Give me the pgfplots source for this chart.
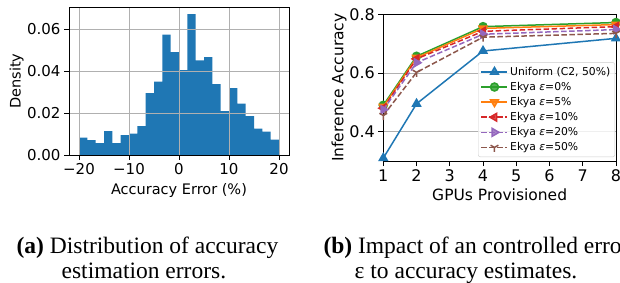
\documentclass[border=0pt]{standalone}
\usepackage{fontspec}
\setmainfont{DejaVu Sans}
\newfontfamily\capfont{Liberation Serif}
\usepackage{pgfplots}
\pgfplotsset{compat=1.18}
\usetikzlibrary{plotmarks}
\definecolor{tabblue}{HTML}{1F77B4}
\definecolor{taborange}{HTML}{FF7F0E}
\definecolor{tabgreen}{HTML}{2CA02C}
\definecolor{tabred}{HTML}{D62728}
\definecolor{tabpurple}{HTML}{9467BD}
\definecolor{tabbrown}{HTML}{8C564B}
\definecolor{gridgray}{HTML}{B0B0B0}
\begin{document}
\begin{tikzpicture}[x=1pt,y=1pt]
\useasboundingbox (0,0) rectangle (620,282);
% ---------------- (a) histogram ----------------
\begin{axis}[
  at={(69pt,127pt)}, anchor=south west,
  scale only axis, width=220pt, height=148pt,
  xmin=-22, xmax=22, ymin=0, ymax=0.0705,
  scaled y ticks=false, scaled x ticks=false,
  axis on top,
  xtick={-20,-10,0,10,20}, xticklabels={−20,−10,0,10,20},
  ytick={0,0.02,0.04,0.06}, yticklabels={0.00,0.02,0.04,0.06},
  xmajorgrids, ymajorgrids,
  grid style={color=gridgray, line width=0.8pt},
  tick align=outside, major tick length=5pt,
  xtick pos=lower, ytick pos=left,
  tick style={black, line width=0.8pt},
  axis line style={line width=0.8pt},
  ticklabel style={font=\fontsize{15}{15}\selectfont},
  xlabel={Accuracy Error (\%)}, ylabel={Density},
  label style={font=\fontsize{14.5}{14.5}\selectfont},
  xlabel style={at={(axis description cs:0.5,-0.2635)}, anchor=base},
  ylabel style={at={(axis description cs:-0.22,0.5)}, anchor=base},
]
\addplot[ybar interval, fill=tabblue, draw=none] coordinates {
(-20,0.00825) (-18.3333,0.00714) (-16.6667,0.00571) (-15,0.01143)
(-13.3333,0.00571) (-11.6667,0.00952) (-10,0.01016) (-8.3333,0.01381)
(-6.6667,0.02952) (-5,0.03492) (-3.3333,0.0573) (-1.6667,0.04905)
(0,0.04048) (1.6667,0.0671) (3.3333,0.04508) (5,0.04667)
(6.6667,0.03381) (8.3333,0.02095) (10,0.0319) (11.6667,0.02444)
(13.3333,0.01857) (15,0.01254) (16.6667,0.01111) (18.3333,0.0073)
(20,0.0073)};
\end{axis}
% ---------------- (b) lines ----------------
\begin{axis}[
  at={(383.3pt,121pt)}, anchor=south west,
  scale only axis, width=232.7pt, height=146.7pt,
  xmin=1, xmax=8, ymin=0.3, ymax=0.8,
  xtick={1,2,3,4,5,6,7,8}, xticklabels={1,2,3,4,5,6,7,8},
  ytick={0.4,0.6,0.8}, yticklabels={0.4,0.6,0.8},
  ymajorgrids,
  grid style={color=gridgray, line width=0.8pt},
  tick align=outside, major tick length=5pt,
  xtick pos=lower, ytick pos=left,
  tick style={black, line width=0.8pt},
  axis line style={line width=0.8pt},
  ticklabel style={font=\fontsize{16}{16}\selectfont},
  xlabel={GPUs Provisioned}, ylabel={Inference Accuracy},
  label style={font=\fontsize{15.5}{15.5}\selectfont},
  xlabel style={at={(axis description cs:0.5,-0.269)}, anchor=base},
  ylabel style={at={(axis description cs:-0.172,0.5)}, anchor=base},
  clip mode=individual,
  legend cell align=left,
  legend style={at={(1,0)}, anchor=south east, xshift=-1pt, yshift=4pt,
    font=\fontsize{10.8}{10.8}\selectfont, draw=black!20, rounded corners=2pt,
    fill=white, fill opacity=0.8, text opacity=1, row sep=1.4pt,
    inner xsep=2.5pt, inner ysep=2.5pt},
  legend image code/.code={\draw[mark repeat=2,mark phase=2,#1] plot coordinates {(0pt,0pt)(13pt,0pt)(26pt,0pt)};},
]
\addplot[tabblue, line width=1.5pt, mark=triangle*, mark size=4.5pt] coordinates {(1,0.31)(2,0.495)(4,0.675)(8,0.718)};
\addlegendentry{Uniform (C2, 50\%)}
\addplot[tabgreen, line width=1.5pt, mark=*, mark size=4pt] coordinates {(1,0.49)(2,0.657)(4,0.758)(8,0.772)};
\addlegendentry{Ekya \textit{ε}=0\%}
\addplot[taborange, line width=1.5pt, mark=triangle*, mark size=4.5pt, mark options={rotate=180}] coordinates {(1,0.485)(2,0.652)(4,0.752)(8,0.765)};
\addlegendentry{Ekya \textit{ε}=5\%}
\addplot[tabred, line width=1.5pt, dash pattern=on 5.5pt off 2.5pt, mark=triangle*, mark size=4.5pt, mark options={solid, rotate=90}] coordinates {(1,0.48)(2,0.648)(4,0.742)(8,0.758)};
\addlegendentry{Ekya \textit{ε}=10\%}
\addplot[tabpurple, line width=1.5pt, dash pattern=on 5.5pt off 2.5pt, mark=triangle*, mark size=4.5pt, mark options={solid, rotate=-90}] coordinates {(1,0.475)(2,0.635)(4,0.732)(8,0.748)};
\addlegendentry{Ekya \textit{ε}=20\%}
\addplot[tabbrown, line width=1.5pt, dash pattern=on 5.5pt off 2.5pt, mark=Mercedes star flipped, mark size=4.5pt, mark options={solid}] coordinates {(1,0.455)(2,0.602)(4,0.722)(8,0.735)};
\addlegendentry{Ekya \textit{ε}=50\%}
\end{axis}
% ---------------- captions ----------------
\begin{scope}[every node/.style={inner sep=0pt, font=\capfont\fontsize{23.5}{25}\selectfont}]
\node[anchor=base] at (147.5,28.7) {\textbf{(a)} Distribution of accuracy};
\node[anchor=base] at (143.9,3.7) {estimation errors.};
\node[anchor=base west] at (323.3,28.7) {\textbf{(b)} Impact of an controlled error};
\node[anchor=base] at (466,3.7) {ε to accuracy estimates.};
\end{scope}
\end{tikzpicture}
\end{document}
